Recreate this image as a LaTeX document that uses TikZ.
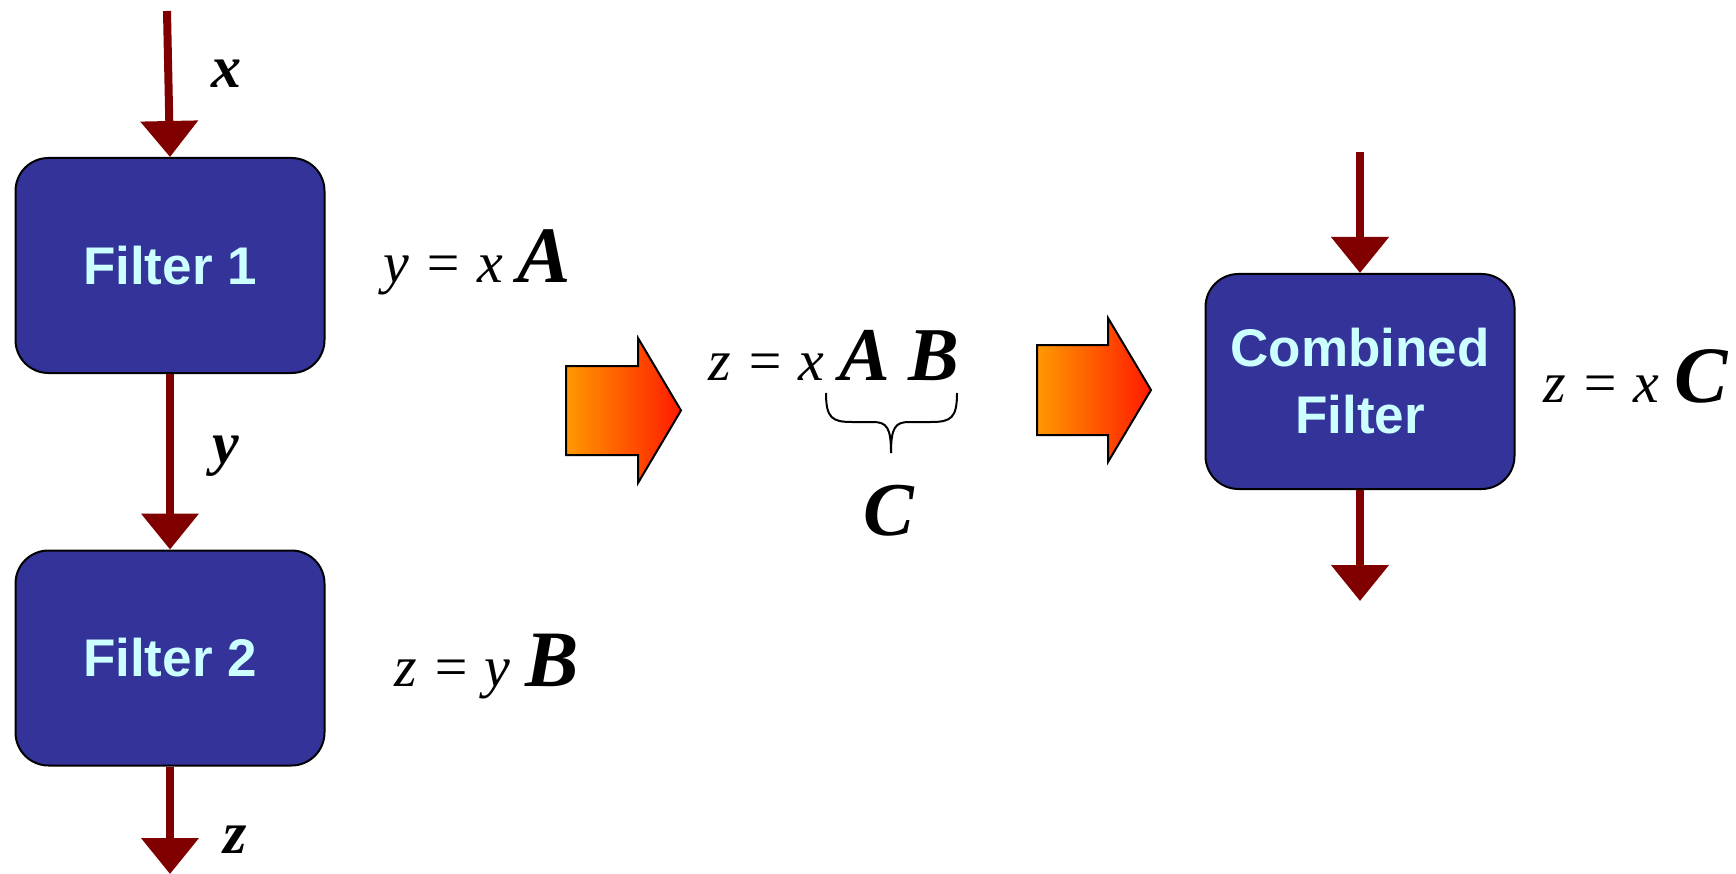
\documentclass[tikz,border=0pt]{standalone}
\usepackage{fontspec}
\setmainfont{Liberation Serif}
\newfontfamily\boxfont{Liberation Sans}
\usetikzlibrary{arrows.meta}
\definecolor{boxblue}{HTML}{333399}
\definecolor{boxtext}{HTML}{CCFFFF}
\definecolor{wire}{HTML}{800000}
\definecolor{fatA}{HTML}{FF9900}
\definecolor{fatB}{HTML}{FF1A00}
\newcommand{\mv}[1]{{\fontsize{58}{58}\selectfont\itshape #1}}
\newcommand{\mB}[1]{{\fontsize{80}{80}\selectfont\bfseries\itshape #1}}
\newcommand{\mC}[1]{{\fontsize{76}{76}\selectfont\bfseries\itshape #1}}
\newcommand{\lab}[1]{{\fontsize{60}{60}\selectfont\bfseries\itshape #1}}
\begin{document}
\begin{tikzpicture}[x=1pt,y=-1pt,
  filterbox/.style={draw=black, line width=2pt, fill=boxblue, rounded corners=33pt,
    minimum width=309pt, minimum height=215pt, inner sep=0pt, text=boxtext,
    font=\boxfont\bfseries\fontsize{53}{67}\selectfont, align=center},
  wirearrow/.style={draw=wire, line width=8pt, -{Triangle[width=56pt,length=36pt]}},
  eq/.style={inner sep=0pt, anchor=base west, text=black},
  lbl/.style={inner sep=0pt, anchor=base, text=black},
  fat/.style={draw=black, line width=2pt, left color=fatA, right color=fatB},
  brace/.style={draw=black, line width=2pt}]
\useasboundingbox (0,0) rectangle (1736,874);

% filter boxes
\node[filterbox] (f1) at (170,265.5) {Filter 1};
\node[filterbox] (f2) at (170,658) {Filter 2};
\node[filterbox] (cf) at (1360,381.5) {Combined\\Filter};

% free ends
\coordinate (xin) at (167,11);
\coordinate (zout) at (170,874);
\coordinate (cin) at (1360,152);
\coordinate (cout) at (1360,601);

% connectors
\draw[wirearrow] (xin) -- (f1.north);
\draw[wirearrow] (f1.south) -- (f2.north);
\draw[wirearrow] (f2.south) -- (zout);
\draw[wirearrow] (cin) -- (cf.north);
\draw[wirearrow] (cf.south) -- (cout);

% signal labels
\node[lbl] (lx) at (226,88) {\lab{x}};
\node[lbl] (ly) at (226,463) {\lab{y}};
\node[lbl] (lz) at (235,853) {\lab{z}};

% equations
\node[eq] (e1) at (383,283) {\mv{y = x }\mB{A}};
\node[eq] (e2) at (394,686) {\mv{z = y }\mB{B}};
\node[eq] (e3) at (708,380) {\mv{z = x }\mC{A B}};
\node[lbl] (ec) at (889,535) {\mC{C}};
\node[eq] (e4) at (1543,402) {\mv{z = x }\mB{C}};

% brace
\draw[brace] (826,393) .. controls (826,418) and (832,422) .. (852,422) -- (873,422)
  .. controls (887,422) and (891,428) .. (891,453);
\draw[brace] (957,393) .. controls (957,418) and (951,422) .. (931,422) -- (909,422)
  .. controls (895,422) and (891,428) .. (891,453);

% fat arrows
\path[fat] (566,366) -- (638,366) -- (638,338) -- (681,410.5) -- (638,483)
  -- (638,455) -- (566,455) -- cycle;
\path[fat] (1037,345) -- (1108,345) -- (1108,318) -- (1151,390) -- (1108,462)
  -- (1108,435) -- (1037,435) -- cycle;
\end{tikzpicture}
\end{document}
